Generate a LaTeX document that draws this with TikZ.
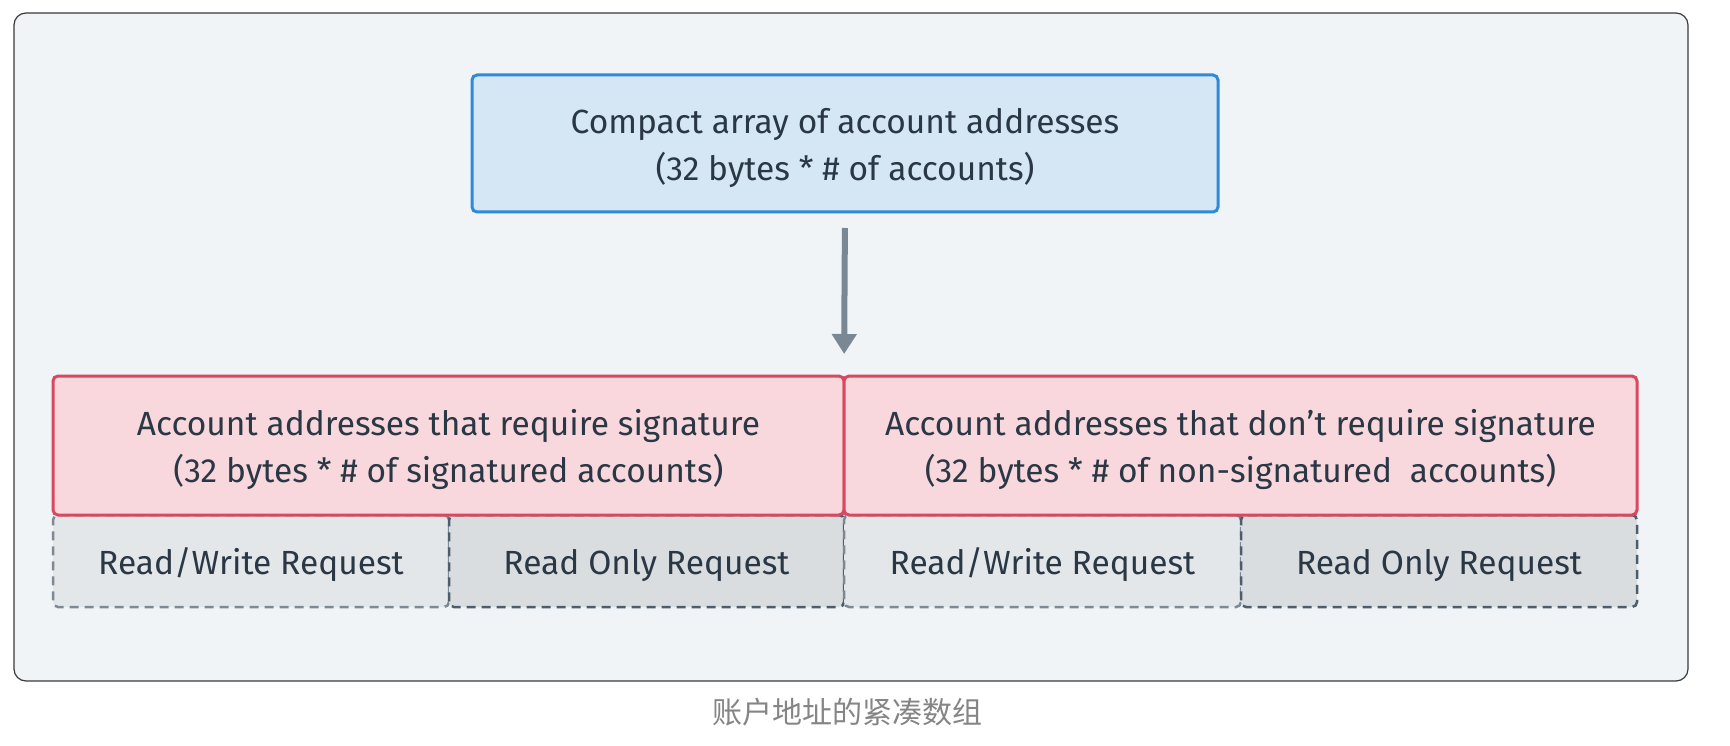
\documentclass[tikz,border=0pt]{standalone}
\usepackage{fontspec}
\setmainfont{Fira Sans}
\newfontfamily\cjk{Noto Sans CJK SC}
\usetikzlibrary{arrows.meta}
\definecolor{bgpanel}{HTML}{F0F4F7}
\definecolor{framec}{HTML}{3A3A3A}
\definecolor{bluefill}{HTML}{D5E6F5}
\definecolor{blueline}{HTML}{2E8BDB}
\definecolor{redfill}{HTML}{F8D8DC}
\definecolor{redline}{HTML}{D9485F}
\definecolor{rwfill}{HTML}{E4E7EA}
\definecolor{rofill}{HTML}{DADDE0}
\definecolor{rwline}{HTML}{7D8A96}
\definecolor{roline}{HTML}{4D5D6C}
\definecolor{arrowc}{HTML}{7A8794}
\definecolor{txt}{HTML}{2A3744}
\definecolor{capc}{HTML}{858585}
\newcommand\liftline{\rule{0pt}{35pt}}
\tikzset{
  boxtext/.style={text=txt, font=\fontsize{33.5}{47}\selectfont, align=center, inner sep=0pt, outer sep=0pt},
  panel/.style={draw=framec, fill=bgpanel, line width=1.2pt, rounded corners=12pt, inner sep=0pt, outer sep=0pt},
  bluebox/.style={boxtext, draw=blueline, fill=bluefill, line width=3pt, rounded corners=5pt},
  redbox/.style={boxtext, draw=redline, fill=redfill, line width=3pt, rounded corners=5pt},
  rwbox/.style={boxtext, draw=rwline, fill=rwfill, line width=2.5pt, dash pattern=on 9pt off 6pt, rounded corners=5pt},
  robox/.style={boxtext, draw=roline, fill=rofill, line width=2.5pt, dash pattern=on 9pt off 6pt, rounded corners=5pt},
  flow/.style={draw=arrowc, line width=6pt, -{Triangle[length=20pt,width=24pt]}}
}
\begin{document}
\begin{tikzpicture}[x=1pt,y=-1pt]
\useasboundingbox (0,0) rectangle (1730,746);
\fill[white] (0,0) rectangle (1730,746);
\node[panel, minimum width=1674pt, minimum height=668pt] (frame) at (851,347) {};
\node[bluebox, minimum width=746pt, minimum height=137pt] (top) at (845,143.5)
  {\liftline Compact array of account addresses\\(32 bytes * \# of accounts)};
\node[rwbox, minimum width=396pt, minimum height=92pt] (d1) at (251,561) {\liftline Read/Write Request};
\node[robox, minimum width=395pt, minimum height=92pt] (d2) at (646.5,561) {\liftline Read Only Request};
\node[rwbox, minimum width=397pt, minimum height=92pt] (d3) at (1042.5,561) {\liftline Read/Write Request};
\node[robox, minimum width=396pt, minimum height=92pt] (d4) at (1439,561) {\liftline Read Only Request};
\node[redbox, minimum width=791pt, minimum height=139pt] (redL) at (448.5,445.5)
  {\liftline Account addresses that require signature\\(32 bytes * \# of signatured accounts)};
\node[redbox, minimum width=793pt, minimum height=139pt] (redR) at (1240.5,445.5)
  {\liftline Account addresses that don’t require signature\\(32 bytes * \# of non-signatured\ \ accounts)};
\draw[flow, shorten <=16pt, shorten >=22pt] (top.south) -- (redL.north east);
\node[text=capc, font=\cjk\fontsize{30}{36}\selectfont, inner sep=0pt] (cap) at (847,712) {账户地址的紧凑数组};
\end{tikzpicture}
\end{document}
